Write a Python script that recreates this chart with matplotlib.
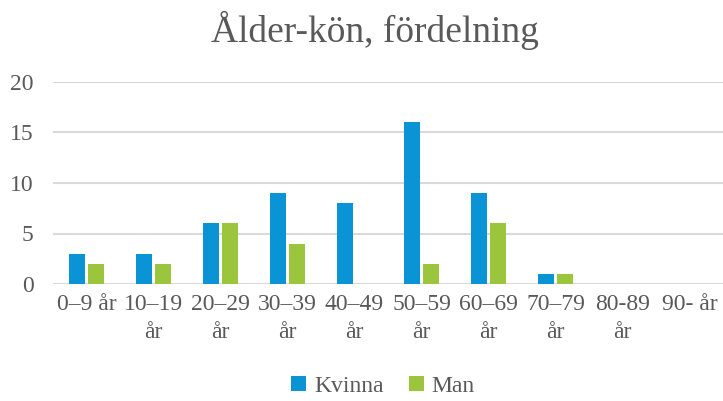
import matplotlib
matplotlib.use("Agg")
import matplotlib.pyplot as plt
import numpy as np

categories = ["0–9 år", "10–19\når", "20–29\når", "30–39\når", "40–49\når",
              "50–59\når", "60–69\når", "70–79\når", "80-89\når", "90- år"]
kvinna = [3, 3, 6, 9, 8, 16, 9, 1, 0, 0]
man = [2, 2, 6, 4, 0, 2, 6, 1, 0, 0]
yticks = [0, 5, 10, 15, 20]

plt.rcParams['font.family'] = ['Liberation Serif', 'DejaVu Serif']
txt = '#595959'
blue = '#0A93D5'
green = '#9BC53D'

fig = plt.figure(figsize=(7.23, 4.01), dpi=100)
ax = fig.add_axes([53/723, 1-284/401, 670/723, (284-82)/401])

x = np.arange(len(categories))
w = 0.23
ax.bar(x - 0.14, kvinna, w, color=blue, label='Kvinna', zorder=3)
ax.bar(x + 0.14, man, w, color=green, label='Man', zorder=3)

ax.set_xlim(-0.5, len(categories) - 0.5)
ax.set_ylim(0, 20)
ax.set_yticks(yticks)
ax.set_xticks(x)
ax.set_xticklabels(categories, linespacing=1.45)
ax.tick_params(axis='both', length=0, labelsize=17, colors=txt)
ax.tick_params(axis='x', pad=7)
ax.tick_params(axis='y', pad=14)
ax.grid(axis='y', color='#D9D9D9', linewidth=1.5, zorder=0)
for s in ax.spines.values():
    s.set_visible(False)

fig.text(0.518, 1-30/401, "Ålder-kön, fördelning", ha='center', va='center',
         fontsize=27, color=txt)

leg = fig.legend(loc='center', bbox_to_anchor=(0.53, 1-386/401), ncol=2,
                 frameon=False, prop={'family': 'Liberation Serif', 'size': 17},
                 handlelength=0.6, handleheight=0.6,
                 handletextpad=0.35, columnspacing=1.1)
for t in leg.get_texts():
    t.set_color(txt)
    t.set_fontfamily('Liberation Serif')

fig.savefig("out.png", dpi=100)
